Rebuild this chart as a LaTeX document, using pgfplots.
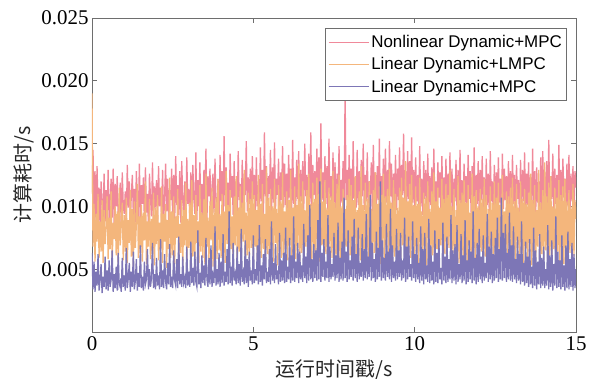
\documentclass[border=0pt]{standalone}
\usepackage{pgfplots}
\pgfplotsset{compat=1.18}
\usepackage{pgfplotstable}
\usepackage{fontspec}
\setmainfont{Liberation Serif}
\newfontfamily\tickfont{Liberation Serif}
\newfontfamily\legfont{Liberation Sans}
\newfontfamily\cjk{Noto Sans CJK SC}
\definecolor{cred}{HTML}{F0899A}
\definecolor{corange}{HTML}{F4B67C}
\definecolor{cpurple}{HTML}{7D76B6}
\definecolor{axgray}{HTML}{6E6E6E}

\pgfplotstableread[row sep=\\]{
y\\
11.0\\ 14.5\\ 9.2\\ 12.8\\ 8.6\\ 13.2\\ 9.8\\ 11.5\\ 8.4\\ 12.0\\ 10.2\\ 9.0\\ 12.6\\ 8.8\\ 11.3\\ 9.5\\
12.9\\ 8.7\\ 10.6\\ 12.2\\ 9.1\\ 13.0\\ 8.5\\ 11.8\\ 10.0\\ 12.4\\ 8.9\\ 9.7\\ 11.9\\ 8.3\\ 12.7\\ 10.1\\
9.4\\ 11.2\\ 8.6\\ 13.3\\ 9.9\\ 12.0\\ 8.8\\ 10.9\\ 12.5\\ 9.3\\ 11.4\\ 8.7\\ 12.8\\ 10.4\\ 9.0\\ 13.4\\
8.9\\ 11.7\\ 10.2\\ 12.3\\ 8.6\\ 13.1\\ 9.5\\ 11.0\\ 8.4\\ 12.6\\ 10.7\\ 9.2\\ 13.5\\ 8.8\\ 11.6\\ 9.9\\
12.1\\ 8.7\\ 13.2\\ 10.0\\ 11.5\\ 9.1\\ 12.9\\ 8.5\\ 10.8\\ 13.4\\ 9.6\\ 12.2\\ 8.9\\ 11.3\\ 10.5\\ 13.0\\
9.0\\ 12.5\\ 8.6\\ 14.0\\ 10.1\\ 11.7\\ 9.3\\ 12.8\\ 8.7\\ 13.6\\ 10.4\\ 9.5\\ 12.0\\ 8.8\\ 13.9\\ 10.2\\
11.4\\ 9.1\\ 12.7\\ 8.6\\ 13.3\\ 10.6\\ 9.4\\ 14.3\\ 8.9\\ 12.1\\ 10.0\\ 13.5\\ 9.2\\ 11.8\\ 8.7\\ 12.9\\
10.3\\ 14.6\\ 9.0\\ 12.4\\ 10.8\\ 13.0\\ 8.8\\ 11.6\\ 12.6\\ 9.5\\ 13.8\\ 10.1\\ 9.3\\ 12.2\\ 8.9\\ 14.1\\
10.4\\ 12.8\\ 9.2\\ 15.6\\ 10.0\\ 13.1\\ 9.6\\ 11.9\\ 8.8\\ 14.2\\ 10.7\\ 12.4\\ 9.3\\ 13.6\\ 10.1\\ 12.0\\
9.0\\ 14.4\\ 10.5\\ 11.8\\ 9.4\\ 13.7\\ 8.9\\ 12.6\\ 10.9\\ 15.2\\ 9.6\\ 12.3\\ 10.2\\ 13.0\\ 9.1\\ 14.0\\
10.6\\ 12.5\\ 9.3\\ 13.9\\ 10.0\\ 11.7\\ 9.5\\ 14.7\\ 10.4\\ 12.9\\ 9.0\\ 15.9\\ 10.8\\ 13.2\\ 9.7\\ 12.4\\
11.0\\ 14.5\\ 9.4\\ 13.1\\ 10.3\\ 15.1\\ 9.8\\ 12.2\\ 10.9\\ 13.8\\ 9.2\\ 12.7\\ 10.5\\ 14.8\\ 9.9\\ 13.4\\
10.1\\ 12.6\\ 9.5\\ 14.1\\ 10.7\\ 13.0\\ 9.3\\ 15.3\\ 10.2\\ 12.3\\ 9.8\\ 13.7\\ 10.6\\ 14.4\\ 9.1\\ 12.9\\
10.4\\ 13.6\\ 9.7\\ 15.0\\ 10.8\\ 12.5\\ 9.4\\ 14.2\\ 10.1\\ 15.9\\ 9.6\\ 13.3\\ 10.9\\ 12.8\\ 9.5\\ 14.6\\
10.3\\ 13.9\\ 9.8\\ 16.6\\ 10.5\\ 12.7\\ 9.9\\ 14.0\\ 10.2\\ 13.2\\ 9.6\\ 15.4\\ 10.7\\ 12.4\\ 9.3\\ 14.3\\
10.0\\ 13.5\\ 9.4\\ 12.6\\ 10.6\\ 14.8\\ 9.7\\ 12.1\\ 10.3\\ 13.6\\ 9.2\\ 19.3\\ 10.5\\ 12.9\\ 9.6\\ 14.1\\
10.2\\ 13.0\\ 9.5\\ 15.2\\ 10.6\\ 12.3\\ 9.9\\ 14.5\\ 10.1\\ 12.8\\ 9.4\\ 13.7\\ 10.8\\ 15.0\\ 9.7\\ 12.5\\
10.4\\ 14.3\\ 9.6\\ 12.0\\ 10.9\\ 13.5\\ 9.3\\ 14.9\\ 10.2\\ 12.7\\ 9.8\\ 13.2\\ 10.5\\ 15.4\\ 9.5\\ 12.4\\
10.7\\ 13.8\\ 9.9\\ 14.6\\ 10.3\\ 12.9\\ 9.6\\ 15.2\\ 10.8\\ 13.4\\ 9.4\\ 12.6\\ 10.1\\ 14.1\\ 9.7\\ 13.0\\
10.5\\ 14.7\\ 9.8\\ 13.3\\ 10.9\\ 15.8\\ 10.2\\ 12.8\\ 9.6\\ 14.4\\ 10.6\\ 13.6\\ 9.9\\ 15.5\\ 10.3\\ 12.9\\
9.7\\ 13.9\\ 10.4\\ 12.5\\ 9.5\\ 14.8\\ 10.0\\ 12.2\\ 9.3\\ 13.6\\ 10.6\\ 12.9\\ 9.8\\ 14.2\\ 9.4\\ 12.4\\
10.1\\ 13.1\\ 9.6\\ 14.6\\ 10.3\\ 12.0\\ 9.2\\ 13.5\\ 10.7\\ 12.7\\ 9.5\\ 14.0\\ 10.0\\ 12.3\\ 9.3\\ 13.8\\
10.5\\ 12.6\\ 9.4\\ 14.3\\ 9.9\\ 13.0\\ 9.1\\ 12.2\\ 10.4\\ 13.7\\ 9.6\\ 12.9\\ 10.2\\ 14.5\\ 9.3\\ 12.1\\
9.8\\ 13.4\\ 10.3\\ 12.4\\ 9.2\\ 14.1\\ 10.6\\ 12.8\\ 9.5\\ 13.2\\ 10.0\\ 14.7\\ 9.4\\ 12.5\\ 10.2\\ 13.6\\
9.1\\ 12.9\\ 10.5\\ 14.0\\ 9.6\\ 12.3\\ 9.3\\ 13.8\\ 10.1\\ 12.6\\ 9.5\\ 14.4\\ 10.4\\ 12.0\\ 9.2\\ 13.3\\
10.0\\ 12.7\\ 9.4\\ 13.9\\ 10.3\\ 12.2\\ 9.1\\ 14.2\\ 9.8\\ 13.0\\ 10.5\\ 12.4\\ 9.3\\ 13.6\\ 10.1\\ 12.8\\
9.5\\ 14.1\\ 10.2\\ 12.5\\ 9.3\\ 13.3\\ 10.6\\ 12.1\\ 9.0\\ 13.7\\ 9.9\\ 12.9\\ 10.4\\ 14.3\\ 9.4\\ 12.6\\
10.1\\ 13.5\\ 9.2\\ 12.3\\ 10.5\\ 14.6\\ 9.6\\ 12.8\\ 9.3\\ 13.1\\ 10.3\\ 12.0\\ 9.7\\ 13.9\\ 9.1\\ 14.4\\
10.4\\ 12.7\\ 9.5\\ 13.6\\ 10.0\\ 15.3\\ 9.8\\ 12.4\\ 10.6\\ 14.2\\ 9.3\\ 13.0\\ 10.2\\ 12.5\\ 9.6\\ 14.9\\
10.3\\ 12.9\\ 9.4\\ 13.8\\ 10.7\\ 12.2\\ 9.1\\ 13.4\\ 10.0\\ 14.1\\ 9.5\\ 12.6\\ 10.4\\ 13.2\\ 9.7\\ 12.8\\
11.5\\
}\redtab

\pgfplotstableread[row sep=\\]{
y\\
19.0\\ 6.8\\ 10.2\\ 5.6\\ 9.4\\ 7.2\\ 11.0\\ 5.9\\ 8.8\\ 6.4\\ 10.5\\ 5.5\\ 9.7\\ 7.0\\ 8.3\\ 10.8\\
5.8\\ 9.1\\ 6.6\\ 11.2\\ 5.4\\ 8.7\\ 7.4\\ 10.0\\ 6.1\\ 9.6\\ 5.3\\ 11.5\\ 6.9\\ 8.5\\ 10.3\\ 5.7\\
9.3\\ 6.4\\ 10.7\\ 5.5\\ 8.9\\ 7.1\\ 11.3\\ 6.0\\ 9.8\\ 5.2\\ 10.4\\ 6.7\\ 8.6\\ 11.8\\ 5.9\\ 9.2\\
6.3\\ 10.1\\ 5.6\\ 9.5\\ 7.3\\ 12.0\\ 5.4\\ 8.8\\ 6.8\\ 10.6\\ 5.8\\ 9.0\\ 6.2\\ 11.1\\ 5.3\\ 9.9\\
7.0\\ 10.9\\ 5.7\\ 8.7\\ 6.5\\ 11.6\\ 5.5\\ 9.4\\ 7.2\\ 10.2\\ 5.1\\ 8.9\\ 6.6\\ 12.3\\ 5.9\\ 9.6\\
6.1\\ 10.8\\ 5.4\\ 9.2\\ 7.5\\ 11.4\\ 5.8\\ 8.6\\ 6.3\\ 10.5\\ 5.2\\ 9.7\\ 6.9\\ 11.9\\ 5.6\\ 9.0\\
6.7\\ 10.3\\ 5.3\\ 12.1\\ 6.0\\ 9.3\\ 5.7\\ 10.9\\ 7.1\\ 8.8\\ 5.5\\ 11.7\\ 6.4\\ 9.5\\ 5.9\\ 10.6\\
5.4\\ 12.6\\ 6.8\\ 9.1\\ 5.6\\ 10.4\\ 7.3\\ 11.5\\ 5.2\\ 9.8\\ 6.2\\ 10.7\\ 5.8\\ 12.2\\ 6.5\\ 9.4\\
5.9\\ 11.0\\ 6.3\\ 9.6\\ 5.5\\ 12.8\\ 7.0\\ 10.1\\ 5.7\\ 11.3\\ 6.6\\ 9.2\\ 5.4\\ 10.8\\ 6.9\\ 12.4\\
5.6\\ 9.9\\ 6.4\\ 11.6\\ 5.8\\ 10.3\\ 7.2\\ 12.9\\ 5.3\\ 9.5\\ 6.1\\ 11.1\\ 5.9\\ 10.6\\ 6.7\\ 12.0\\
5.5\\ 10.9\\ 6.8\\ 9.7\\ 5.7\\ 12.5\\ 6.3\\ 10.2\\ 5.9\\ 11.8\\ 6.6\\ 9.4\\ 5.4\\ 13.1\\ 6.2\\ 10.7\\
5.8\\ 11.4\\ 6.5\\ 10.0\\ 5.6\\ 12.2\\ 7.1\\ 9.8\\ 5.3\\ 11.7\\ 6.4\\ 10.4\\ 5.9\\ 12.7\\ 6.0\\ 9.6\\
6.6\\ 11.2\\ 5.7\\ 10.5\\ 6.9\\ 12.9\\ 5.5\\ 9.9\\ 6.2\\ 11.6\\ 5.8\\ 10.1\\ 6.7\\ 13.4\\ 5.6\\ 10.8\\
6.3\\ 12.0\\ 5.9\\ 9.7\\ 6.8\\ 11.3\\ 5.4\\ 12.6\\ 6.5\\ 10.2\\ 5.7\\ 11.9\\ 6.1\\ 10.6\\ 5.8\\ 12.3\\
6.4\\ 11.0\\ 5.6\\ 13.0\\ 6.9\\ 10.4\\ 5.8\\ 12.1\\ 6.2\\ 9.9\\ 5.5\\ 11.5\\ 6.7\\ 10.8\\ 5.9\\ 12.8\\
6.0\\ 10.3\\ 5.7\\ 11.8\\ 6.6\\ 12.5\\ 5.4\\ 10.0\\ 6.3\\ 11.4\\ 5.9\\ 9.8\\ 6.8\\ 10.9\\ 5.6\\ 12.2\\
6.1\\ 11.7\\ 5.8\\ 10.5\\ 6.5\\ 12.4\\ 5.6\\ 9.7\\ 6.9\\ 11.2\\ 5.7\\ 13.2\\ 6.2\\ 10.1\\ 5.5\\ 11.9\\
6.4\\ 10.6\\ 5.9\\ 12.0\\ 6.7\\ 9.8\\ 5.6\\ 11.3\\ 6.3\\ 12.7\\ 5.8\\ 10.2\\ 6.6\\ 11.6\\ 5.4\\ 10.9\\
6.2\\ 12.6\\ 5.7\\ 10.8\\ 6.8\\ 11.4\\ 5.9\\ 13.0\\ 6.4\\ 10.3\\ 5.6\\ 12.1\\ 6.0\\ 11.0\\ 5.8\\ 9.9\\
6.5\\ 11.5\\ 5.5\\ 12.3\\ 6.9\\ 10.7\\ 6.1\\ 13.6\\ 5.7\\ 10.4\\ 6.3\\ 11.8\\ 5.9\\ 12.5\\ 6.6\\ 10.1\\
5.8\\ 11.6\\ 6.3\\ 10.2\\ 5.4\\ 12.3\\ 6.8\\ 9.6\\ 5.6\\ 11.1\\ 6.4\\ 10.7\\ 5.3\\ 12.0\\ 7.0\\ 9.8\\
5.7\\ 11.2\\ 6.1\\ 12.7\\ 5.4\\ 10.4\\ 6.6\\ 11.5\\ 5.2\\ 9.9\\ 6.9\\ 12.2\\ 5.7\\ 10.6\\ 6.2\\ 11.8\\
5.4\\ 10.9\\ 6.7\\ 12.9\\ 5.6\\ 10.0\\ 6.3\\ 11.4\\ 5.0\\ 9.7\\ 6.8\\ 12.4\\ 5.5\\ 10.5\\ 6.1\\ 11.1\\
5.6\\ 12.1\\ 6.5\\ 10.3\\ 5.1\\ 11.7\\ 6.9\\ 9.5\\ 5.6\\ 12.6\\ 6.2\\ 10.8\\ 5.2\\ 11.3\\ 6.7\\ 10.0\\
5.9\\ 11.4\\ 6.4\\ 10.6\\ 5.3\\ 12.2\\ 6.0\\ 10.9\\ 5.7\\ 9.8\\ 6.6\\ 11.6\\ 5.4\\ 10.3\\ 6.2\\ 12.0\\
5.5\\ 10.7\\ 6.8\\ 11.9\\ 5.2\\ 10.1\\ 6.3\\ 12.5\\ 5.8\\ 9.6\\ 6.5\\ 11.2\\ 5.3\\ 10.8\\ 6.9\\ 11.5\\
5.6\\ 12.3\\ 6.1\\ 10.4\\ 5.4\\ 11.8\\ 6.7\\ 9.9\\ 5.5\\ 12.0\\ 6.3\\ 10.6\\ 5.1\\ 11.4\\ 6.6\\ 10.2\\
5.8\\ 11.1\\ 6.4\\ 12.6\\ 5.3\\ 10.5\\ 6.0\\ 11.7\\ 5.6\\ 9.7\\ 6.8\\ 12.9\\ 5.4\\ 10.3\\ 6.2\\ 11.3\\
5.7\\ 13.5\\ 6.5\\ 10.8\\ 5.2\\ 11.9\\ 6.1\\ 12.4\\ 5.8\\ 10.0\\ 6.6\\ 11.5\\ 5.3\\ 10.7\\ 6.4\\ 12.1\\
5.5\\ 10.9\\ 6.7\\ 11.6\\ 5.4\\ 12.2\\ 6.2\\ 10.4\\ 5.7\\ 11.3\\ 6.3\\ 10.0\\ 5.6\\ 11.8\\ 6.0\\ 10.5\\
9.0\\
}\orangetab

\pgfplotstableread[row sep=\\]{
y\\
6.3\\ 3.4\\ 5.6\\ 3.2\\ 4.8\\ 3.7\\ 6.2\\ 3.3\\ 4.1\\ 5.4\\ 3.1\\ 4.4\\ 3.6\\ 6.0\\ 3.4\\ 4.9\\
3.3\\ 5.7\\ 3.6\\ 4.2\\ 6.5\\ 3.2\\ 4.6\\ 3.5\\ 5.2\\ 3.3\\ 6.3\\ 3.7\\ 4.0\\ 3.2\\ 5.9\\ 3.6\\
4.5\\ 3.3\\ 6.7\\ 3.5\\ 4.3\\ 5.5\\ 3.2\\ 4.8\\ 3.6\\ 6.4\\ 3.4\\ 4.1\\ 5.8\\ 3.3\\ 4.7\\ 3.6\\
6.9\\ 3.5\\ 4.4\\ 3.3\\ 5.6\\ 3.8\\ 4.2\\ 6.6\\ 3.4\\ 5.0\\ 3.6\\ 4.3\\ 7.1\\ 3.5\\ 4.6\\ 3.4\\
5.9\\ 3.7\\ 4.5\\ 3.4\\ 7.4\\ 3.6\\ 4.9\\ 3.5\\ 6.2\\ 4.0\\ 3.4\\ 5.5\\ 3.8\\ 7.0\\ 3.6\\ 4.4\\
3.5\\ 6.5\\ 4.1\\ 3.7\\ 5.8\\ 3.5\\ 7.6\\ 3.8\\ 4.6\\ 3.6\\ 6.0\\ 3.9\\ 4.3\\ 3.5\\ 6.8\\ 3.7\\
4.8\\ 3.6\\ 7.2\\ 3.9\\ 5.1\\ 3.7\\ 6.4\\ 4.0\\ 3.6\\ 8.1\\ 3.8\\ 4.7\\ 3.5\\ 6.1\\ 3.9\\ 5.3\\
3.7\\ 7.5\\ 4.2\\ 3.6\\ 5.9\\ 3.8\\ 6.9\\ 3.6\\ 4.5\\ 3.9\\ 8.4\\ 3.7\\ 5.0\\ 3.8\\ 6.3\\ 3.6\\
5.6\\ 3.9\\ 7.8\\ 3.7\\ 4.8\\ 4.0\\ 6.6\\ 3.8\\ 9.6\\ 3.9\\ 5.2\\ 3.7\\ 7.1\\ 4.1\\ 4.6\\ 3.8\\
6.8\\ 3.9\\ 5.4\\ 3.7\\ 8.2\\ 4.0\\ 4.7\\ 3.8\\ 7.3\\ 3.9\\ 5.8\\ 3.6\\ 6.4\\ 4.1\\ 4.9\\ 3.8\\
7.7\\ 3.9\\ 5.0\\ 4.1\\ 6.9\\ 3.8\\ 8.5\\ 4.0\\ 5.3\\ 3.7\\ 6.2\\ 4.2\\ 7.4\\ 3.9\\ 4.8\\ 4.0\\
6.6\\ 3.8\\ 8.8\\ 4.1\\ 5.5\\ 3.9\\ 7.0\\ 4.2\\ 4.9\\ 3.8\\ 7.9\\ 4.0\\ 5.7\\ 4.1\\ 6.3\\ 3.9\\
8.3\\ 4.0\\ 5.2\\ 4.2\\ 7.5\\ 3.9\\ 6.1\\ 4.1\\ 9.2\\ 4.0\\ 5.6\\ 4.3\\ 7.1\\ 3.9\\ 6.4\\ 4.2\\
5.3\\ 4.0\\ 8.6\\ 4.3\\ 6.0\\ 3.9\\ 7.7\\ 4.1\\ 10.1\\ 4.2\\ 5.8\\ 4.0\\ 7.0\\ 4.3\\ 6.5\\ 4.1\\
8.9\\ 4.2\\ 12.0\\ 4.0\\ 6.3\\ 4.4\\ 7.4\\ 4.1\\ 5.6\\ 4.3\\ 9.3\\ 4.0\\ 6.8\\ 4.2\\ 5.4\\ 4.4\\
7.9\\ 4.1\\ 6.1\\ 4.3\\ 8.7\\ 4.0\\ 5.9\\ 4.2\\ 7.2\\ 4.1\\ 10.7\\ 4.3\\ 6.4\\ 4.0\\ 8.1\\ 4.2\\
5.7\\ 4.4\\ 7.6\\ 4.1\\ 9.0\\ 4.3\\ 6.2\\ 4.0\\ 8.3\\ 4.2\\ 5.5\\ 4.4\\ 7.8\\ 4.1\\ 6.6\\ 4.3\\
9.4\\ 4.2\\ 6.0\\ 4.4\\ 10.9\\ 4.1\\ 7.1\\ 4.3\\ 5.8\\ 4.0\\ 8.0\\ 4.2\\ 6.7\\ 4.4\\ 12.0\\ 4.1\\
7.3\\ 4.3\\ 5.9\\ 4.1\\ 8.6\\ 4.4\\ 6.4\\ 4.2\\ 9.8\\ 4.0\\ 6.9\\ 4.3\\ 5.6\\ 4.1\\ 8.2\\ 4.2\\
6.5\\ 4.4\\ 7.9\\ 4.1\\ 5.7\\ 4.3\\ 9.1\\ 4.0\\ 6.8\\ 4.2\\ 7.6\\ 4.4\\ 5.4\\ 4.1\\ 8.8\\ 4.3\\
6.2\\ 4.0\\ 7.5\\ 4.2\\ 5.5\\ 3.9\\ 8.4\\ 4.1\\ 6.6\\ 3.8\\ 7.9\\ 4.2\\ 5.3\\ 4.0\\ 9.0\\ 3.9\\
6.9\\ 4.1\\ 5.6\\ 3.8\\ 8.1\\ 4.0\\ 6.3\\ 3.9\\ 7.4\\ 4.2\\ 5.1\\ 3.8\\ 8.7\\ 4.1\\ 6.0\\ 3.9\\
7.6\\ 4.0\\ 5.8\\ 4.2\\ 9.3\\ 3.9\\ 6.5\\ 4.1\\ 7.0\\ 3.8\\ 8.5\\ 4.0\\ 5.4\\ 4.2\\ 7.8\\ 3.9\\
6.1\\ 4.1\\ 8.9\\ 3.8\\ 5.7\\ 4.0\\ 7.3\\ 4.2\\ 6.4\\ 3.9\\ 9.6\\ 4.1\\ 5.9\\ 3.8\\ 7.1\\ 4.0\\
8.2\\ 4.2\\ 6.0\\ 3.9\\ 7.7\\ 4.1\\ 5.5\\ 4.3\\ 9.4\\ 4.0\\ 6.8\\ 4.2\\ 8.0\\ 3.9\\ 6.2\\ 4.1\\
7.5\\ 4.3\\ 9.1\\ 4.0\\ 6.6\\ 4.2\\ 10.7\\ 4.1\\ 7.9\\ 4.3\\ 8.6\\ 4.0\\ 6.3\\ 4.2\\ 9.5\\ 4.1\\
6.9\\ 4.0\\ 8.4\\ 4.2\\ 5.8\\ 3.9\\ 7.6\\ 4.1\\ 6.2\\ 3.8\\ 8.8\\ 4.0\\ 5.5\\ 3.7\\ 7.2\\ 3.9\\
6.0\\ 3.6\\ 7.4\\ 3.8\\ 5.2\\ 3.5\\ 8.3\\ 3.7\\ 6.5\\ 3.4\\ 5.6\\ 3.8\\ 7.8\\ 3.5\\ 5.9\\ 3.7\\
6.8\\ 3.5\\ 5.0\\ 3.7\\ 8.5\\ 3.4\\ 6.1\\ 3.6\\ 7.3\\ 3.3\\ 5.4\\ 3.7\\ 9.2\\ 3.5\\ 6.4\\ 3.6\\
5.7\\ 3.4\\ 7.7\\ 3.6\\ 5.3\\ 3.3\\ 6.9\\ 3.5\\ 8.0\\ 3.4\\ 5.8\\ 3.6\\ 7.1\\ 3.3\\ 6.2\\ 3.5\\
5.0\\
}\purpletab

\begin{document}
\begin{tikzpicture}
\begin{axis}[
  at={(0,0)}, anchor=south west,
  scale only axis,
  width=484bp, height=314bp,
  xmin=0, xmax=15, ymin=0, ymax=25,
  xtick={0,5,10,15},
  xticklabels={0,5,10,15},
  ytick={5,10,15,20,25},
  yticklabels={0.005,0.010,0.015,0.020,0.025},
  tick align=inside,
  major tick length=5bp,
  axis line style={axgray, line width=0.8bp},
  every tick/.style={axgray, line width=0.8bp},
  tick label style={font=\tickfont\fontsize{21}{24}\selectfont, text=black},
  /pgf/number format/assume math mode=true,
  xlabel={\cjk 运行时间戳/s},
  ylabel={\cjk 计算耗时/s},
  label style={font=\fontsize{20}{24}\selectfont, text=black!85},
  xlabel style={yshift=-2bp},
  ylabel style={yshift=0bp},
  xticklabel style={yshift=-1bp},
  legend style={at={(rel axis cs:0.982,0.968)}, anchor=north east,
    draw=axgray, line width=0.8bp, font=\legfont\fontsize{17}{19}\selectfont,
    inner xsep=3bp, inner ysep=5bp, row sep=4.5bp},
  legend cell align=left,
  legend image code/.code={\draw[#1, line width=1.2bp] (0cm,0cm) -- (40bp,0cm);},
  clip=true,
]
\addplot[draw=cred, line width=1.3bp] table[x expr=\coordindex*0.03125, y=y] {\redtab};
\addlegendentry{Nonlinear Dynamic+MPC}
\addplot[draw=corange, line width=1.3bp] table[x expr=\coordindex*0.03125, y=y] {\orangetab};
\addlegendentry{Linear Dynamic+LMPC}
\addplot[draw=cpurple, line width=1.3bp] table[x expr=\coordindex*0.03125, y=y] {\purpletab};
\addlegendentry{Linear Dynamic+MPC}
\end{axis}
\pgfresetboundingbox
\path[use as bounding box] (-92bp,-47bp) rectangle (497bp,332bp);
\end{tikzpicture}
\end{document}
